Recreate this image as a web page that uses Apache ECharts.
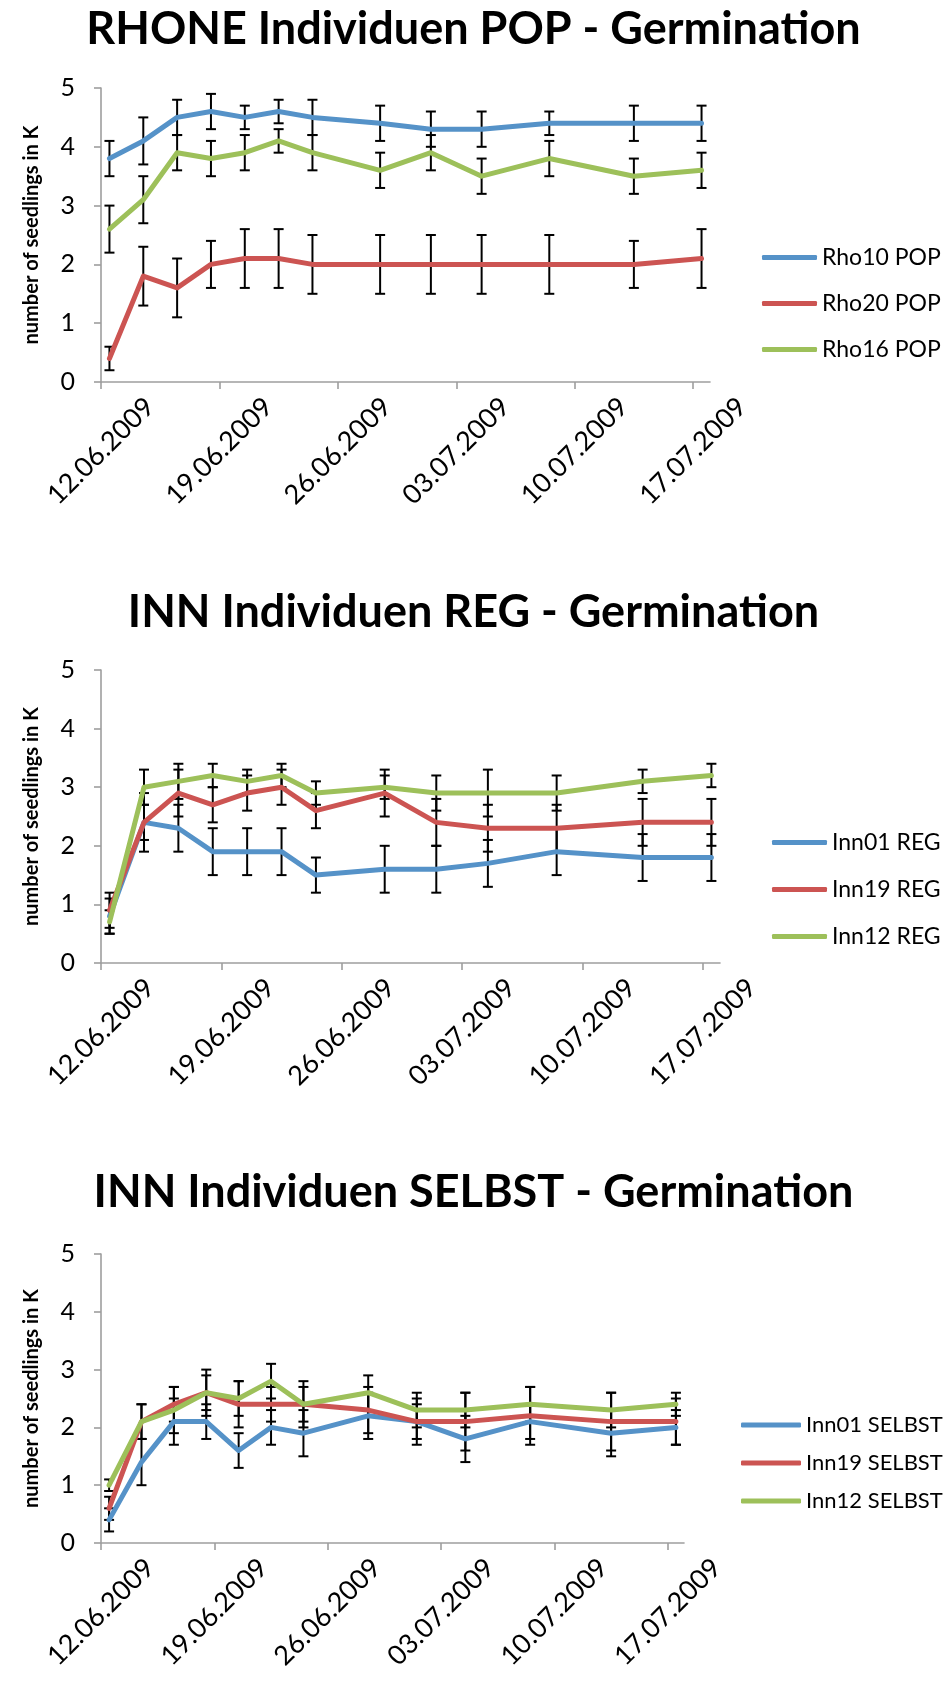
<!DOCTYPE html>
<html>
<head>
<meta charset="utf-8">
<title>Germination</title>
<script src="https://cdn.jsdelivr.net/npm/echarts@6/dist/echarts.min.js"></script>
<style>
  html, body { margin: 0; padding: 0; background: #fff; }
  #chart { width: 947px; height: 1683px; }
</style>
</head>
<body>
<div id="chart"></div>
<script>
// Counting dates (seedlings counted per date)
const dates = ['2009-06-12', '2009-06-14', '2009-06-16', '2009-06-18', '2009-06-20', '2009-06-22',
  '2009-06-24', '2009-06-28', '2009-07-01', '2009-07-04', '2009-07-08', '2009-07-13', '2009-07-17'];
const axisStart = '2009-06-12';
const axisDays = 36;
const tickDays = [0, 7, 14, 21, 28, 35];
const yTicks = [0, 1, 2, 3, 4, 5];

// RHONE Individuen POP
const rho10Pop = [3.8, 4.1, 4.5, 4.6, 4.5, 4.6, 4.5, 4.4, 4.3, 4.3, 4.4, 4.4, 4.4];
const rho10PopErr = [0.3, 0.4, 0.3, 0.3, 0.2, 0.2, 0.3, 0.3, 0.3, 0.3, 0.2, 0.3, 0.3];
const rho20Pop = [0.4, 1.8, 1.6, 2.0, 2.1, 2.1, 2.0, 2.0, 2.0, 2.0, 2.0, 2.0, 2.1];
const rho20PopErr = [0.2, 0.5, 0.5, 0.4, 0.5, 0.5, 0.5, 0.5, 0.5, 0.5, 0.5, 0.4, 0.5];
const rho16Pop = [2.6, 3.1, 3.9, 3.8, 3.9, 4.1, 3.9, 3.6, 3.9, 3.5, 3.8, 3.5, 3.6];
const rho16PopErr = [0.4, 0.4, 0.3, 0.3, 0.3, 0.2, 0.3, 0.3, 0.3, 0.3, 0.3, 0.3, 0.3];

// INN Individuen REG
const inn01Reg = [0.8, 2.4, 2.3, 1.9, 1.9, 1.9, 1.5, 1.6, 1.6, 1.7, 1.9, 1.8, 1.8];
const inn01RegErr = [0.3, 0.5, 0.4, 0.4, 0.4, 0.4, 0.3, 0.4, 0.4, 0.4, 0.4, 0.4, 0.4];
const inn19Reg = [0.9, 2.4, 2.9, 2.7, 2.9, 3.0, 2.6, 2.9, 2.4, 2.3, 2.3, 2.4, 2.4];
const inn19RegErr = [0.3, 0.3, 0.4, 0.3, 0.3, 0.3, 0.3, 0.4, 0.4, 0.4, 0.4, 0.4, 0.4];
const inn12Reg = [0.7, 3.0, 3.1, 3.2, 3.1, 3.2, 2.9, 3.0, 2.9, 2.9, 2.9, 3.1, 3.2];
const inn12RegErr = [0.2, 0.3, 0.3, 0.2, 0.2, 0.2, 0.2, 0.2, 0.3, 0.4, 0.3, 0.2, 0.2];

// INN Individuen SELBST
const inn01Selbst = [0.4, 1.4, 2.1, 2.1, 1.6, 2.0, 1.9, 2.2, 2.1, 1.8, 2.1, 1.9, 2.0];
const inn01SelbstErr = [0.2, 0.4, 0.4, 0.3, 0.3, 0.3, 0.4, 0.4, 0.3, 0.4, 0.3, 0.4, 0.3];
const inn19Selbst = [0.6, 2.1, 2.4, 2.6, 2.4, 2.4, 2.4, 2.3, 2.1, 2.1, 2.2, 2.1, 2.1];
const inn19SelbstErr = [0.2, 0.3, 0.3, 0.3, 0.4, 0.3, 0.3, 0.4, 0.4, 0.5, 0.5, 0.5, 0.4];
const inn12Selbst = [1.0, 2.1, 2.3, 2.6, 2.5, 2.8, 2.4, 2.6, 2.3, 2.3, 2.4, 2.3, 2.4];
const inn12SelbstErr = [0.1, 0.3, 0.4, 0.4, 0.3, 0.3, 0.4, 0.3, 0.3, 0.3, 0.3, 0.3, 0.2];

const titles = ['RHONE Individuen POP - Germination', 'INN Individuen REG - Germination', 'INN Individuen SELBST - Germination'];
const yAxisName = 'number of seedlings in K';
const seriesColors = ['#5592C8', '#CC5452', '#9DC05A'];

const panels = [
  { title: titles[0], series: [
    { name: 'Rho10 POP', values: rho10Pop, errors: rho10PopErr },
    { name: 'Rho20 POP', values: rho20Pop, errors: rho20PopErr },
    { name: 'Rho16 POP', values: rho16Pop, errors: rho16PopErr } ] },
  { title: titles[1], series: [
    { name: 'Inn01 REG', values: inn01Reg, errors: inn01RegErr },
    { name: 'Inn19 REG', values: inn19Reg, errors: inn19RegErr },
    { name: 'Inn12 REG', values: inn12Reg, errors: inn12RegErr } ] },
  { title: titles[2], series: [
    { name: 'Inn01 SELBST', values: inn01Selbst, errors: inn01SelbstErr },
    { name: 'Inn19 SELBST', values: inn19Selbst, errors: inn19SelbstErr },
    { name: 'Inn12 SELBST', values: inn12Selbst, errors: inn12SelbstErr } ] }
];

// Layout of the three stacked charts
const layout = [
  { grid: { left: 101, top: 88, width: 609, height: 294 }, titleTop: 2,
    legend: { left: 757, top: 241, gap: 23, font: 23, iconW: 55 } },
  { grid: { left: 101, top: 670, width: 619, height: 293 }, titleTop: 585,
    legend: { left: 767, top: 826, gap: 24, font: 23, iconW: 55 } },
  { grid: { left: 101, top: 1254, width: 583, height: 289 }, titleTop: 1165,
    legend: { left: 736, top: 1409, gap: 16, font: 22, iconW: 60 } }
];

const FONT = 'Lato, "Open Sans", sans-serif';
const DAY = 86400000;
const startMs = Date.parse(axisStart);
// each count sits in the middle of its day
const dayPos = dates.map(d => (Date.parse(d) - startMs) / DAY + 0.5);

function dayLabel(v) {
  const d = new Date(startMs + v * DAY);
  const dd = String(d.getUTCDate()).padStart(2, '0');
  const mm = String(d.getUTCMonth() + 1).padStart(2, '0');
  return dd + '.' + mm + '.' + d.getUTCFullYear();
}

const axisGrey = { color: '#9E9E9E', width: 1.6 };

const option = {
  backgroundColor: '#fff',
  animation: false,
  textStyle: { fontFamily: FONT },
  title: [], grid: [], xAxis: [], yAxis: [], legend: [], series: []
};

panels.forEach((p, gi) => {
  const L = layout[gi];
  option.title.push({
    text: p.title, left: 'center', top: L.titleTop,
    textStyle: { fontFamily: FONT, fontSize: 45, fontWeight: 'bold', color: '#000' }
  });
  option.grid.push(L.grid);
  option.xAxis.push({
    type: 'value', gridIndex: gi, min: 0, max: axisDays,
    axisLine: { show: true, lineStyle: axisGrey },
    axisTick: { show: true, length: 7, lineStyle: axisGrey, customValues: tickDays },
    axisLabel: { customValues: tickDays, rotate: 45, align: 'center', verticalAlign: 'middle',
      margin: 69, fontSize: 27, color: '#000', fontFamily: FONT, formatter: dayLabel },
    splitLine: { show: false }
  });
  option.yAxis.push({
    type: 'value', gridIndex: gi, min: 0, max: 5, interval: 1,
    name: yAxisName, nameLocation: 'middle', nameGap: 59, nameRotate: 90,
    nameTextStyle: { fontSize: 20, fontWeight: 'bold', color: '#000', fontFamily: FONT },
    axisLine: { show: true, lineStyle: axisGrey },
    axisTick: { show: true, length: 7, lineStyle: axisGrey, customValues: yTicks },
    axisLabel: { customValues: yTicks, margin: 26, fontSize: 25, color: '#000', fontFamily: FONT },
    splitLine: { show: false }
  });
  option.legend.push({
    orient: 'vertical', left: L.legend.left, top: L.legend.top,
    itemWidth: L.legend.iconW, itemHeight: 5, itemGap: L.legend.gap, icon: 'roundRect', selectedMode: false,
    textStyle: { fontSize: L.legend.font, color: '#000', fontFamily: FONT },
    data: p.series.map(s => s.name)
  });
  p.series.forEach((s, si) => {
    // error bars (mean ± error) drawn beneath the lines
    option.series.push({
      type: 'custom', xAxisIndex: gi, yAxisIndex: gi, z: 2, silent: true,
      encode: { x: 0, y: [1, 2] },
      data: dayPos.map((x, i) => [x, s.values[i] - s.errors[i], s.values[i] + s.errors[i]]),
      renderItem: (params, api) => {
        const x = api.value(0);
        const lo = api.coord([x, api.value(1)]);
        const hi = api.coord([x, api.value(2)]);
        const cap = 5;
        const style = { stroke: '#000', lineWidth: 2 };
        return { type: 'group', children: [
          { type: 'line', shape: { x1: lo[0], y1: lo[1], x2: hi[0], y2: hi[1] }, style },
          { type: 'line', shape: { x1: lo[0] - cap, y1: lo[1], x2: lo[0] + cap, y2: lo[1] }, style },
          { type: 'line', shape: { x1: hi[0] - cap, y1: hi[1], x2: hi[0] + cap, y2: hi[1] }, style }
        ] };
      }
    });
    option.series.push({
      type: 'line', name: s.name, xAxisIndex: gi, yAxisIndex: gi, z: 3,
      showSymbol: false, symbol: 'none', color: seriesColors[si],
      lineStyle: { width: 5, color: seriesColors[si], cap: 'round', join: 'round' },
      data: dayPos.map((x, i) => [x, s.values[i]])
    });
  });
});

const chart = echarts.init(document.getElementById('chart'), null, { renderer: 'canvas' });
chart.setOption(option);
</script>
</body>
</html>
